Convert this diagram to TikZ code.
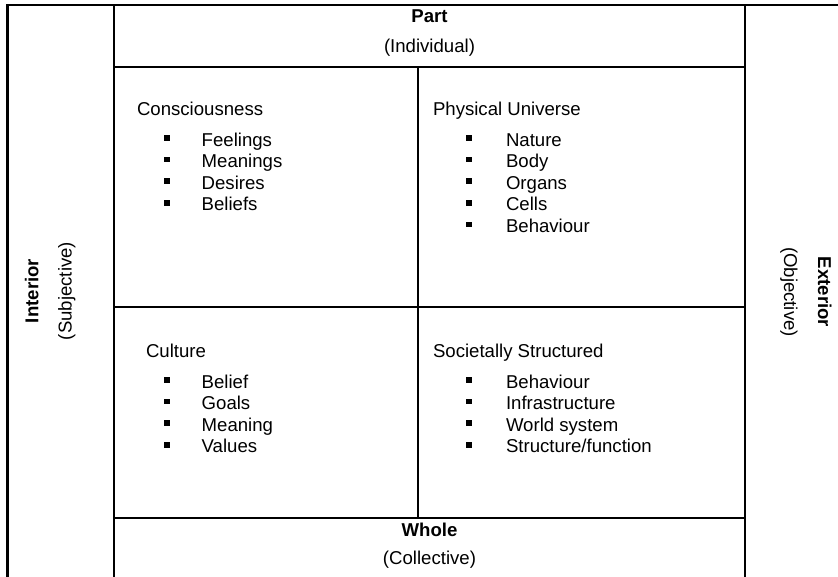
\documentclass[tikz,border=0pt]{standalone}
\usepackage{fontspec}
\setmainfont{Liberation Sans}
\begin{document}
\begin{tikzpicture}[x=1pt,y=-1pt,
  grid/.style={line width=2.3pt},
  txt/.style={font=\fontsize{18.6}{22}\selectfont, inner sep=0pt, outer sep=0pt},
  head/.style={txt, anchor=base west},
  itemtext/.style={txt, anchor=base west},
  bul/.style={rectangle, fill=black, draw=none, minimum size=5.7pt, inner sep=0pt},
  label/.style={txt, font=\fontsize{18.6}{22}\selectfont\bfseries, anchor=base},
  sublabel/.style={txt, anchor=base}]

\useasboundingbox (0,0) rectangle (838,576);
\fill[white] (0,0) rectangle (838,576);

\begin{scope}
  \clip (0,0) rectangle (838,576);
  % outer frame (right and bottom edges run past the page)
  \draw[grid] (7.5,590) -- (7.5,5) -- (850,5);
  % column rules
  \draw[grid] (114,5) -- (114,590);
  \draw[grid] (745,5) -- (745,590);
  % row rules of the centre column
  \draw[grid] (114,67)  -- (745,67);
  \draw[grid] (114,307) -- (745,307);
  \draw[grid] (114,518) -- (745,518);
  % quadrant divider
  \draw[grid] (418,67) -- (418,518);
\end{scope}

% axis labels
\node[label]    (part)  at (429.5,22)  {Part};
\node[sublabel] (indiv) at (429.5,52)  {(Individual)};
\node[label]    (whole) at (429.5,536) {Whole};
\node[sublabel] (coll)  at (429.5,564) {(Collective)};

\node[label, rotate=90]     (interior) at (38.3,291) {Interior};
\node[sublabel, rotate=90]  (subj)     at (71.5,291) {(Subjective)};
\node[label, rotate=-90]    (exterior) at (818,292)  {Exterior};
\node[sublabel, rotate=-90] (obj)      at (784,292)  {(Objective)};

% quadrant headings
\node[head] (ul) at (137,115) {Consciousness};
\node[head] (ur) at (433,115) {Physical Universe};
\node[head] (ll) at (146,357) {Culture};
\node[head] (lr) at (433,357) {Societally Structured};

% bulleted lists
\foreach \t [count=\i] in {Feelings,Meanings,Desires,Beliefs} {
  \pgfmathsetmacro\yy{146+(\i-1)*21.6}
  \node[bul] (ulb\i) at (167,\yy-8) {};
  \node[itemtext] (ult\i) at (201.7,\yy) {\t};
}
\foreach \t [count=\i] in {Nature,Body,Organs,Cells,Behaviour} {
  \pgfmathsetmacro\yy{146+(\i-1)*21.6}
  \node[bul] (urb\i) at (469.3,\yy-8) {};
  \node[itemtext] (urt\i) at (506,\yy) {\t};
}
\foreach \t [count=\i] in {Belief,Goals,Meaning,Values} {
  \pgfmathsetmacro\yy{388+(\i-1)*21.6}
  \node[bul] (llb\i) at (167,\yy-8) {};
  \node[itemtext] (llt\i) at (201.7,\yy) {\t};
}
\foreach \t [count=\i] in {Behaviour,Infrastructure,World system,Structure/function} {
  \pgfmathsetmacro\yy{388+(\i-1)*21.6}
  \node[bul] (lrb\i) at (469.3,\yy-8) {};
  \node[itemtext] (lrt\i) at (506,\yy) {\t};
}
\end{tikzpicture}
\end{document}
